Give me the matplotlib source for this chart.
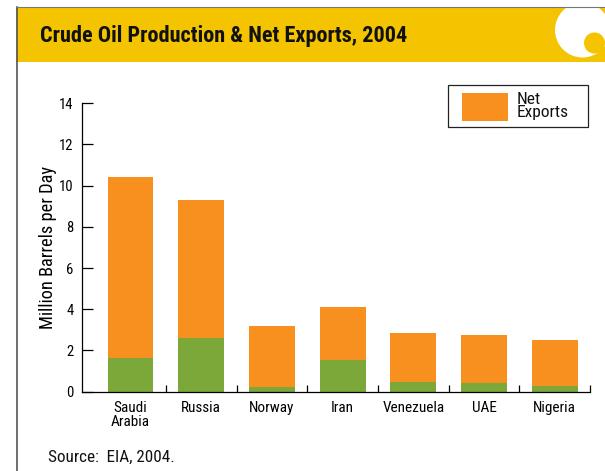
import matplotlib
matplotlib.use("Agg")
import matplotlib.pyplot as plt
from matplotlib.patches import Rectangle, Circle
from matplotlib.lines import Line2D

plt.rcParams['font.family'] = ['Roboto Condensed', 'DejaVu Sans']

countries = ["Saudi\nArabia", "Russia", "Norway", "Iran", "Venezuela", "UAE", "Nigeria"]
domestic = [1.65, 2.62, 0.23, 1.55, 0.49, 0.44, 0.29]
net_exports = [8.79, 6.68, 2.96, 2.56, 2.37, 2.33, 2.23]
y_ticks = [0, 2, 4, 6, 8, 10, 12, 14]

ORANGE = "#F7901E"
GREEN = "#7BA838"
YELLOW = "#F5C400"

W, H = 605, 471
fig = plt.figure(figsize=(W / 100, H / 100), dpi=100)

def fx(px):
    return px / W

def fy(py):
    return 1 - py / H

# header band and frame
fig.patches.append(Rectangle((fx(16), fy(62)), fx(605 - 16), (62 - 7) / H,
                             transform=fig.transFigure, facecolor=YELLOW,
                             edgecolor="none", zorder=0))
fig.lines.append(Line2D([fx(17), fx(17)], [fy(7), 0], transform=fig.transFigure,
                        color="#555555", lw=1.2))
fig.lines.append(Line2D([fx(16), 1], [fy(7), fy(7)], transform=fig.transFigure,
                        color="#777777", lw=0.8))

# logo in header corner
logo_ax = fig.add_axes([fx(16), fy(62), fx(605 - 16), (62 - 7.5) / H], zorder=2)
logo_ax.axis("off")
logo_ax.set_xlim(16, 605)
logo_ax.set_ylim(62, 7.5)
logo_ax.add_patch(Circle((582.5, 30), 27.5, facecolor="white", edgecolor="none"))
logo_ax.add_patch(Circle((594.5, 43), 10.5, facecolor=YELLOW, edgecolor="none"))

fig.text(fx(40), fy(36), "Crude Oil Production & Net Exports, 2004",
         fontsize=16, fontweight="bold", color="#111111", va="center", ha="left",
         zorder=3)

ax = fig.add_axes([fx(81.7), fy(391.7), fx(590 - 81.7), (391.7 - 103.3) / H], zorder=1)
x = list(range(len(countries)))
ax.bar(x, domestic, width=0.65, color=GREEN, zorder=2)
ax.bar(x, net_exports, bottom=domestic, width=0.65, color=ORANGE, zorder=2)

ax.set_xlim(-0.69, 6.5)
ax.set_ylim(0, 14)
ax.set_yticks(y_ticks)
ax.set_xticks(x)
ax.set_xticklabels(countries, fontsize=11, linespacing=0.95)
ax.set_xticks([i + 0.5 for i in x], minor=True)
ax.tick_params(axis="x", which="major", length=0, pad=7)
ax.tick_params(axis="x", which="minor", direction="in", length=5, width=0.9)
ax.tick_params(axis="y", direction="in", length=8, width=0.9, pad=6, labelsize=10.5)
for s in ["top", "right"]:
    ax.spines[s].set_visible(False)
for s in ["left", "bottom"]:
    ax.spines[s].set_linewidth(0.9)
ax.set_ylabel("Million Barrels per Day", fontsize=13.2, labelpad=1)

# legend box for the net-exports series
fig.patches.append(Rectangle((fx(448), fy(127)), fx(588 - 448), (127 - 85) / H,
                             transform=fig.transFigure, facecolor="white",
                             edgecolor="#222222", lw=0.9, zorder=3))
fig.patches.append(Rectangle((fx(462), fy(121)), fx(508 - 462), (121 - 93) / H,
                             transform=fig.transFigure, facecolor=ORANGE,
                             edgecolor="none", zorder=4))
fig.text(fx(517), fy(106), "Net\nExports", fontsize=12.5, linespacing=0.85,
         va="center", ha="left", color="#111111", zorder=5)

fig.text(fx(48), fy(457), "Source:  EIA, 2004.", fontsize=12.3, va="center", ha="left",
         color="#111111")

fig.savefig("out.png", dpi=100)
